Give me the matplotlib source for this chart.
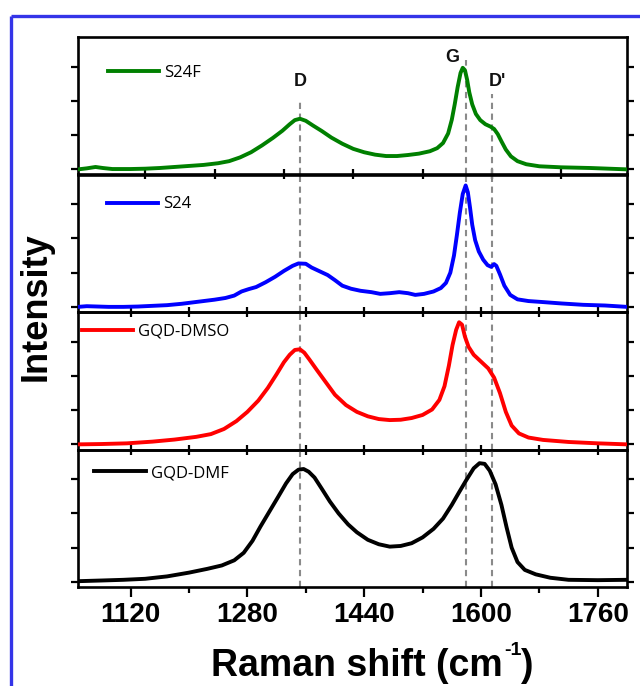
import matplotlib
matplotlib.use("Agg")
import matplotlib.pyplot as plt
from matplotlib.lines import Line2D
from matplotlib.ticker import FixedLocator, NullFormatter

plt.rcParams["font.family"] = ["Liberation Sans", "DejaVu Sans"]

# ---- Raman spectra (Raman shift in cm^-1, stacked intensity in arbitrary units) ----
s24f_x = [1048, 1060, 1072, 1082, 1095, 1120, 1140, 1160, 1180, 1200, 1220, 1240, 1255,
          1270, 1285, 1300, 1315, 1328, 1338, 1345, 1352, 1360, 1370, 1382, 1395, 1410,
          1425, 1440, 1455, 1470, 1485, 1500, 1515, 1530, 1540, 1548, 1555, 1560, 1564,
          1568, 1572, 1575, 1578, 1581, 1584, 1588, 1593, 1599, 1606, 1613, 1618, 1623,
          1628, 1634, 1641, 1650, 1662, 1680, 1710, 1750, 1800]
s24f_y = [0.00, 0.03, 0.07, 0.04, 0.01, 0.01, 0.02, 0.04, 0.07, 0.10, 0.13, 0.18, 0.24,
          0.35, 0.50, 0.70, 0.92, 1.13, 1.32, 1.44, 1.48, 1.42, 1.28, 1.12, 0.93, 0.75,
          0.60, 0.50, 0.43, 0.39, 0.39, 0.42, 0.46, 0.53, 0.62, 0.77, 1.05, 1.45, 1.90,
          2.40, 2.82, 2.97, 2.90, 2.62, 2.25, 1.90, 1.62, 1.44, 1.32, 1.25, 1.18, 1.03,
          0.82, 0.58, 0.38, 0.24, 0.15, 0.09, 0.06, 0.04, 0.00]

s24_x = [1048, 1060, 1075, 1090, 1110, 1130, 1150, 1170, 1190, 1205, 1220, 1235, 1250,
         1262, 1272, 1282, 1292, 1305, 1318, 1330, 1342, 1350, 1360, 1368, 1378, 1390,
         1400, 1410, 1422, 1435, 1450, 1462, 1475, 1488, 1500, 1510, 1522, 1535, 1545,
         1552, 1558, 1563, 1567, 1571, 1575, 1579, 1582, 1585, 1588, 1592, 1597, 1603,
         1609, 1614, 1618, 1621, 1626, 1632, 1640, 1650, 1665, 1685, 1710, 1740, 1770, 1800]
s24_y = [0.00, 0.02, 0.01, 0.00, 0.00, 0.01, 0.03, 0.05, 0.09, 0.13, 0.17, 0.21, 0.26,
         0.33, 0.45, 0.52, 0.58, 0.72, 0.88, 1.05, 1.20, 1.27, 1.26, 1.15, 1.05, 0.93,
         0.78, 0.62, 0.53, 0.47, 0.43, 0.38, 0.40, 0.43, 0.40, 0.35, 0.38, 0.45, 0.55,
         0.70, 1.00, 1.50, 2.10, 2.75, 3.30, 3.55, 3.35, 2.90, 2.40, 1.95, 1.62, 1.38,
         1.22, 1.17, 1.25, 1.20, 0.95, 0.62, 0.35, 0.22, 0.17, 0.14, 0.10, 0.06, 0.04, 0.00]

dmso_x = [1048, 1080, 1115, 1150, 1180, 1210, 1230, 1248, 1265, 1280, 1295, 1308, 1320,
          1330, 1338, 1345, 1352, 1358, 1365, 1375, 1388, 1400, 1415, 1430, 1445, 1460,
          1475, 1490, 1505, 1520, 1533, 1543, 1550, 1556, 1561, 1566, 1570, 1574, 1578,
          1583, 1590, 1600, 1610, 1618, 1626, 1634, 1642, 1652, 1665, 1685, 1720, 1760, 1800]
dmso_y = [0.00, 0.01, 0.03, 0.08, 0.14, 0.22, 0.30, 0.45, 0.68, 0.95, 1.28, 1.65, 2.05,
          2.40, 2.62, 2.76, 2.78, 2.68, 2.48, 2.18, 1.80, 1.45, 1.15, 0.95, 0.82, 0.74,
          0.71, 0.72, 0.77, 0.86, 1.02, 1.30, 1.70, 2.30, 2.90, 3.35, 3.57, 3.50, 3.15,
          2.85, 2.62, 2.42, 2.22, 1.95, 1.50, 0.95, 0.55, 0.32, 0.20, 0.13, 0.07, 0.03, 0.00]

dmf_x = [1048, 1080, 1110, 1140, 1170, 1200, 1225, 1245, 1262, 1275, 1287, 1298, 1310,
         1322, 1333, 1342, 1350, 1357, 1364, 1372, 1382, 1393, 1405, 1418, 1430, 1445,
         1460, 1475, 1490, 1505, 1520, 1535, 1548, 1560, 1570, 1580, 1590, 1598, 1605,
         1612, 1620, 1628, 1635, 1642, 1650, 1660, 1675, 1695, 1720, 1760, 1800]
dmf_y = [0.02, 0.04, 0.06, 0.09, 0.16, 0.27, 0.38, 0.48, 0.63, 0.85, 1.20, 1.62, 2.05,
         2.48, 2.88, 3.15, 3.28, 3.30, 3.22, 3.05, 2.72, 2.35, 2.00, 1.68, 1.45, 1.23,
         1.10, 1.03, 1.05, 1.13, 1.30, 1.55, 1.85, 2.25, 2.62, 2.98, 3.32, 3.47, 3.45,
         3.25, 2.85, 2.25, 1.60, 1.00, 0.58, 0.35, 0.22, 0.12, 0.06, 0.05, 0.06]

series = [
    ("S24F", s24f_x, s24f_y, "#008000"),
    ("S24", s24_x, s24_y, "#0000ff"),
    ("GQD-DMSO", dmso_x, dmso_y, "#ff0000"),
    ("GQD-DMF", dmf_x, dmf_y, "#000000"),
]

# band positions marked by dashed guides
band_names = ["D", "G", "D'"]
band_pos = [1352, 1580, 1615]
band_top = [1.97, 3.2, 2.19]          # upper end of the guide in the top panel
label_x = [1353, 1560, 1622]
label_y = [2.58, 3.28, 2.58]

x_major = [1120, 1280, 1440, 1600, 1760]
x_minor = [1200, 1360, 1520, 1680]
x_all = [1120, 1200, 1280, 1360, 1440, 1520, 1600, 1680, 1760]
x_top_ticks = [1140, 1235, 1330, 1425, 1520, 1615, 1710]

legend_anchor = [(0.054, 0.736), (0.052, 0.782), (0.0067, 0.855), (0.030, 0.828)]

fig = plt.figure(figsize=(6.4, 6.86), dpi=100)
fig.patch.set_facecolor("white")

W, H = 640.0, 686.0
left_px, right_px, top_px, panel_px = 78.0, 627.0, 37.0, 137.5

axes = []
for i, (name, xs, ys, col) in enumerate(series):
    t = top_px + i * panel_px
    ax = fig.add_axes([left_px / W, 1 - (t + panel_px) / H,
                       (right_px - left_px) / W, panel_px / H])
    ax.patch.set_alpha(0.0)
    ax.plot(xs, ys, color=col, lw=2.8, solid_joinstyle="round", label=name, zorder=3)
    ax.set_xlim(1048, 1800)
    ax.set_ylim(-0.15, 3.87)
    ax.set_yticks([0, 1, 2, 3])
    ax.yaxis.set_major_formatter(NullFormatter())
    ax.tick_params(axis="y", which="both", direction="out", length=5, width=1.6,
                   left=True, right=True, labelleft=False, labelright=False)
    for sp in ax.spines.values():
        sp.set_linewidth(1.9)

    if i == 0:
        ax.xaxis.set_major_locator(FixedLocator(x_top_ticks))
    else:
        ax.xaxis.set_major_locator(FixedLocator(x_all))
    if i < 3:
        ax.tick_params(axis="x", which="both", direction="inout", length=7, width=1.6,
                       top=False, labelbottom=False)
    else:
        ax.xaxis.set_major_locator(FixedLocator(x_major))
        ax.xaxis.set_minor_locator(FixedLocator(x_minor))
        ax.tick_params(axis="x", which="major", direction="out", length=7, width=1.6,
                       top=False, labelsize=20, pad=4)
        ax.tick_params(axis="x", which="minor", direction="out", length=4.5, width=1.6,
                       top=False)
        for lab in ax.get_xticklabels():
            lab.set_fontweight("bold")

    # dashed band guides
    for k, xb in enumerate(band_pos):
        if i == 0:
            ax.vlines(xb, -0.15, band_top[k], colors="#8a8a8a", lw=1.5,
                      linestyles=(0, (3.0, 2.2)), zorder=2)
        else:
            ax.axvline(xb, color="#8a8a8a", lw=1.5, ls=(0, (3.0, 2.2)), zorder=2)

    ax.legend(loc="center left", bbox_to_anchor=legend_anchor[i],
              frameon=False, borderpad=0, borderaxespad=0,
              handlelength=3.1, handletextpad=0.3,
              prop={"family": "Open Sans", "size": 12})
    axes.append(ax)

for k, nm in enumerate(band_names):
    axes[0].text(label_x[k], label_y[k], nm, ha="center", va="center",
                 fontsize=13, fontweight="bold", color="#111111")

fig.text(36 / W, 1 - 307 / H, "Intensity", rotation=90, ha="center", va="center",
         fontsize=26, fontweight="bold")

# x-axis title with a small superscript, assembled from three pieces
renderer = fig.canvas.get_renderer()
base_y = 676.0
t_main = fig.text(0, 1 - base_y / H, "Raman shift (cm", fontsize=27,
                  fontweight="bold", va="baseline", ha="left")
t_sup = fig.text(0, 1 - (base_y - 21) / H, "-1", fontsize=14,
                 fontweight="bold", va="baseline", ha="left")
t_end = fig.text(0, 1 - base_y / H, ")", fontsize=27,
                 fontweight="bold", va="baseline", ha="left")
w_main = t_main.get_window_extent(renderer).width
w_sup = t_sup.get_window_extent(renderer).width
w_end = t_end.get_window_extent(renderer).width
total = w_main + w_sup + w_end
x0 = 372 - total / 2
t_main.set_x(x0 / W)
t_sup.set_x((x0 + w_main + 1) / W)
t_end.set_x((x0 + w_main + w_sup) / W)

# outer blue frame
fig.add_artist(Line2D([11 / W, 11 / W], [0, 1 - 16 / H], transform=fig.transFigure,
                      color="#3434e8", lw=2.4, solid_capstyle="butt"))
fig.add_artist(Line2D([11 / W, 1], [1 - 16 / H, 1 - 16 / H], transform=fig.transFigure,
                      color="#3434e8", lw=2.4, solid_capstyle="butt"))

fig.savefig("out.png", dpi=100, facecolor="white")
